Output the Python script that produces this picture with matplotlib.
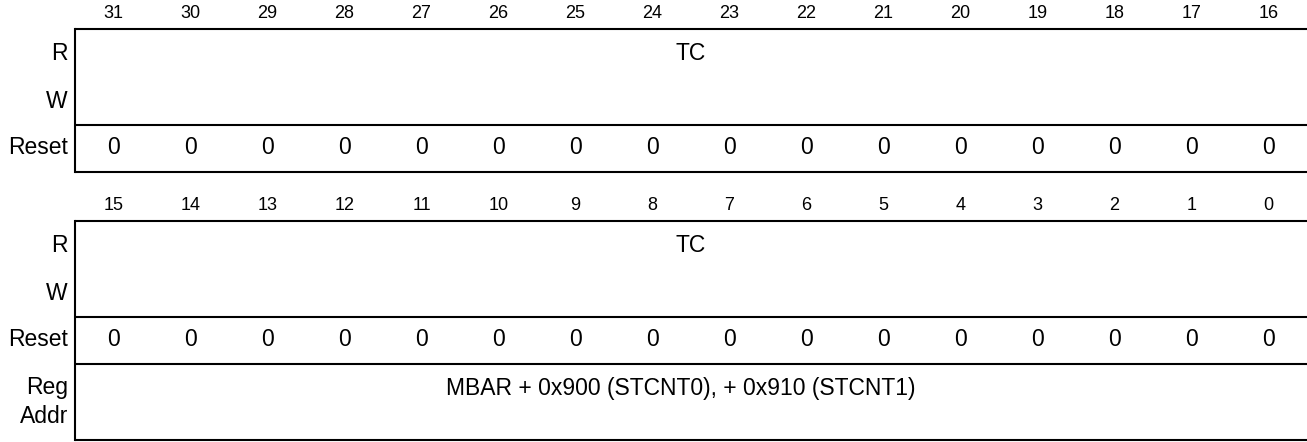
import matplotlib.pyplot as plt

plt.rcParams['font.family'] = ['Liberation Sans', 'DejaVu Sans']

# register contents
bits_hi = list(range(31, 15, -1))
bits_lo = list(range(15, -1, -1))
reset_hi = [0] * 16
reset_lo = [0] * 16
field_hi = "TC"
field_lo = "TC"
row_labels = ["R", "W", "Reset"]
addr_label = "Reg\nAddr"
addr_text = "MBAR + 0x900 (STCNT0), + 0x910 (STCNT1)"

W, H = 1307, 442
x0 = 75            # left edge of the bit grid
cell = (W - x0) / 16
lw = 1.5
fs = 16.5          # main text size
fs_bits = 13


def draw_block(ax, bits, reset, field, y_top, last=False):
    # bit numbers above the box
    for i, b in enumerate(bits):
        ax.text(x0 + cell * (i + 0.5), y_top - 16, str(b), ha="center",
                va="center", fontsize=fs_bits)

    y_mid = y_top + 96
    y_bot = y_mid + 47
    ax.plot([x0, W], [y_top, y_top], color="black", lw=lw, solid_capstyle="butt")
    ax.plot([x0, W], [y_mid, y_mid], color="black", lw=lw, solid_capstyle="butt")
    ax.plot([x0, W], [y_bot, y_bot], color="black", lw=lw, solid_capstyle="butt")
    y_end = y_bot + 76 if last else y_bot
    ax.plot([x0, x0], [y_top, y_end], color="black", lw=lw, solid_capstyle="projecting")
    if last:
        ax.plot([x0, W], [y_end, y_end], color="black", lw=lw, solid_capstyle="butt")

    ax.text(x0 - 7, y_top + 25, row_labels[0], ha="right", va="center", fontsize=fs)
    ax.text(x0 - 7, y_top + 72, row_labels[1], ha="right", va="center", fontsize=fs)
    ax.text(x0 - 7, y_mid + 23, row_labels[2], ha="right", va="center", fontsize=fs)

    ax.text(x0 + cell * 8, y_top + 25, field, ha="center", va="center", fontsize=fs)

    for i, v in enumerate(reset):
        ax.text(x0 + cell * (i + 0.5), y_mid + 23, str(v), ha="center",
                va="center", fontsize=fs)
    return y_bot


fig = plt.figure(figsize=(W / 100, H / 100), dpi=100)
ax = fig.add_axes([0, 0, 1, 1])
ax.set_xlim(0, W)
ax.set_ylim(H, 0)
ax.axis("off")

draw_block(ax, bits_hi, reset_hi, field_hi, 29)
y_bot = draw_block(ax, bits_lo, reset_lo, field_lo, 221, last=True)

ax.text(x0 - 7, y_bot + 38, addr_label, ha="right", va="center",
        fontsize=fs, linespacing=1.35)
ax.text(681, y_bot + 24, addr_text, ha="center", va="center", fontsize=fs)

fig.savefig("out.png", dpi=100)
